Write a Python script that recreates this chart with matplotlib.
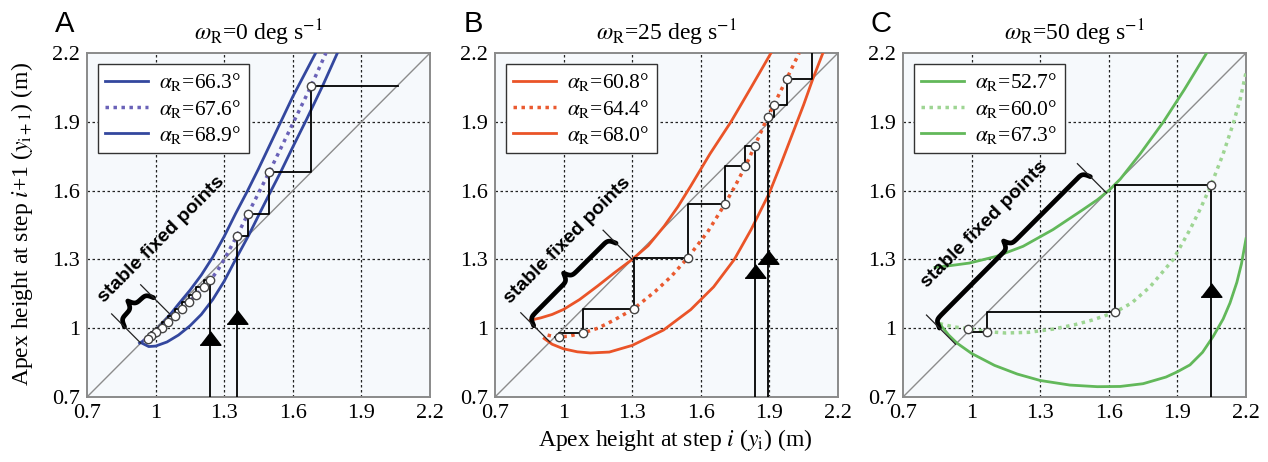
import numpy as np
import matplotlib
matplotlib.use('Agg')
from matplotlib import pyplot as plt

# ---- data ---------------------------------------------------------------
omega = ['0', '25', '50']
letters = ['A', 'B', 'C']
alpha_labels = [['66.3', '67.6', '68.9'],
                ['60.8', '64.4', '68.0'],
                ['52.7', '60.0', '67.3']]

# panel A (omega_R = 0)
A_x1 = [0.93, 0.95, 0.98, 1.02, 1.06, 1.10, 1.15, 1.20, 1.25, 1.30, 1.35, 1.40, 1.45, 1.50, 1.55, 1.60, 1.65, 1.70]
A_y1 = [0.935, 0.947, 0.97, 1.01, 1.055, 1.105, 1.165, 1.232, 1.31, 1.40, 1.50, 1.595, 1.695, 1.80, 1.905, 2.01, 2.105, 2.2]
A_x2 = [0.945, 0.966, 0.982, 1.003, 1.028, 1.055, 1.085, 1.115, 1.146, 1.178, 1.21, 1.24, 1.27, 1.30, 1.356, 1.403, 1.497, 1.681, 1.745]
A_y2 = [0.945, 0.955, 0.966, 0.982, 1.003, 1.028, 1.055, 1.085, 1.115, 1.146, 1.178, 1.21, 1.25, 1.30, 1.403, 1.497, 1.681, 2.058, 2.2]
A_x3 = [0.94, 0.97, 1.0, 1.05, 1.10, 1.15, 1.20, 1.25, 1.30, 1.35, 1.406, 1.453, 1.50, 1.547, 1.60, 1.66, 1.731, 1.795]
A_y3 = [0.935, 0.92, 0.922, 0.94, 0.97, 1.01, 1.06, 1.125, 1.205, 1.30, 1.403, 1.497, 1.59, 1.681, 1.79, 1.91, 2.058, 2.2]

# panel B (omega_R = 25)
B_x1 = [0.855, 0.90, 0.95, 1.00, 1.07, 1.15, 1.22, 1.30, 1.37, 1.44, 1.50, 1.556, 1.64, 1.732, 1.82, 1.907]
B_y1 = [1.035, 1.045, 1.06, 1.082, 1.125, 1.185, 1.24, 1.30, 1.36, 1.445, 1.53, 1.62, 1.76, 1.90, 2.05, 2.2]
B_x2 = [0.93, 0.962, 0.979, 1.02, 1.084, 1.15, 1.22, 1.306, 1.40, 1.47, 1.542, 1.63, 1.706, 1.75, 1.795, 1.836, 1.892, 1.92, 1.975, 2.03]
B_y2 = [0.97, 0.962, 0.962, 0.965, 0.979, 1.0, 1.035, 1.084, 1.16, 1.225, 1.306, 1.42, 1.542, 1.62, 1.706, 1.795, 1.92, 1.975, 2.086, 2.2]
B_x3 = [0.915, 0.95, 1.0, 1.06, 1.117, 1.2, 1.30, 1.437, 1.556, 1.656, 1.746, 1.82, 1.90, 1.95, 2.0, 2.05, 2.09, 2.134]
B_y3 = [0.955, 0.93, 0.91, 0.897, 0.892, 0.896, 0.925, 0.992, 1.081, 1.18, 1.299, 1.43, 1.59, 1.715, 1.845, 1.975, 2.087, 2.2]

# panel C (omega_R = 50)
C_x1 = [0.84, 0.90, 0.99, 1.108, 1.225, 1.356, 1.487, 1.55, 1.604, 1.65, 1.737, 1.839, 1.93, 2.028]
C_y1 = [1.265, 1.272, 1.284, 1.313, 1.357, 1.43, 1.517, 1.56, 1.604, 1.65, 1.76, 1.90, 2.04, 2.2]
C_x2 = [0.86, 0.92, 0.985, 1.069, 1.15, 1.25, 1.356, 1.45, 1.526, 1.626, 1.70, 1.78, 1.882, 1.955, 2.0, 2.048, 2.10, 2.145, 2.175, 2.2]
C_y2 = [1.02, 1.006, 0.998, 0.985, 0.979, 0.982, 0.996, 1.015, 1.035, 1.069, 1.11, 1.18, 1.30, 1.43, 1.52, 1.626, 1.76, 1.895, 2.0, 2.115]
C_x3 = [0.855, 0.90, 0.936, 1.0, 1.10, 1.20, 1.30, 1.43, 1.55, 1.65, 1.75, 1.85, 1.90, 1.955, 2.01, 2.057, 2.10, 2.13, 2.16, 2.18, 2.2]
C_y3 = [1.025, 0.97, 0.935, 0.89, 0.838, 0.80, 0.772, 0.752, 0.745, 0.746, 0.758, 0.787, 0.81, 0.84, 0.895, 0.965, 1.04, 1.11, 1.20, 1.28, 1.39]

# cobweb iterates (apex heights y_0, y_1, ...) and arrow head heights
A_webs = [[1.356, 1.403, 1.497, 1.681, 2.058],
          [1.24, 1.21, 1.178, 1.146, 1.115, 1.085, 1.055, 1.028, 1.003, 0.982, 0.966, 0.955]]
A_heads = [1.049, 0.957]
B_webs = [[1.892, 1.92, 1.975, 2.086, 2.4],
          [1.836, 1.795, 1.706, 1.542, 1.306, 1.084, 0.979, 0.962]]
B_heads = [1.31, 1.25]
C_webs = [[2.048, 1.626, 1.069, 0.985, 0.998]]
C_heads = [1.165]

# range of stable fixed points along the diagonal
brace_range = [(0.935, 1.062), (0.94, 1.30), (0.93, 1.59)]
text_pos = [(1.207, 0.255), (1.20, 0.26), (1.254, 0.277)]

ticks = [0.7, 1, 1.3, 1.6, 1.9, 2.2]
tick_labels = ['0.7', '1', '1.3', '1.6', '1.9', '2.2']

# ---- styling ------------------------------------------------------------
plt.rcParams['font.family'] = ['Liberation Serif', 'DejaVu Serif']
plt.rcParams['mathtext.fontset'] = 'stix'

colors = [('#33479e', '#6a62b8'), ('#ea5428', '#ea5a30'), ('#62b85a', '#9ed593')]

panels = [
    ([(A_x1, A_y1), (A_x2, A_y2), (A_x3, A_y3)], A_webs, A_heads),
    ([(B_x1, B_y1), (B_x2, B_y2), (B_x3, B_y3)], B_webs, B_heads),
    ([(C_x1, C_y1), (C_x2, C_y2), (C_x3, C_y3)], C_webs, C_heads),
]

fig = plt.figure(figsize=(12.68, 4.62), dpi=100)
lefts = [87, 495, 903]
arrow_marker = [(-1, -0.65), (1, -0.65), (0, 0.65)]
s2 = np.sqrt(2)


def diag_to_xy(t, v):
    # t: position along the diagonal, v: perpendicular offset (towards upper left)
    return t - v / s2, t + v / s2


def draw_brace(ax, t0, t1, base=0.10, h=0.07, beta=140):
    L = (t1 - t0) * s2
    u = np.linspace(0, L / 2, 200)
    half = 0.5 / (1 + np.exp(-beta * (u - u[0]))) + 0.5 / (1 + np.exp(-beta * (u - u[-1])))
    v = np.concatenate([half, half[::-1]])
    v = base + (v - 0.25) * 2 * h
    uu = np.concatenate([u, L - u[::-1]])
    t = t0 + uu / s2
    x, y = diag_to_xy(t, v)
    ax.plot(x, y, color='black', lw=3.4, solid_capstyle='round',
            solid_joinstyle='round', zorder=6)
    for tt in (t0, t1):
        x, y = diag_to_xy(np.array([tt, tt]), np.array([0.0, 0.18]))
        ax.plot(x, y, color='#222222', lw=0.9, zorder=6)


for i, (curves, webs, heads) in enumerate(panels):
    ax = fig.add_axes([lefts[i] / 1268, 65 / 462, 343 / 1268, 344 / 462])
    ax.set_facecolor('#f6f9fc')
    ax.set_xlim(0.7, 2.2)
    ax.set_ylim(0.7, 2.2)
    ax.set_xticks(ticks)
    ax.set_yticks(ticks)
    ax.set_xticklabels(tick_labels)
    ax.set_yticklabels(tick_labels)
    ax.tick_params(length=0, labelsize=16, pad=5)
    for sp in ax.spines.values():
        sp.set_color('#8a8a8a')
        sp.set_linewidth(1.4)
    for g in ticks[1:-1]:
        ax.axvline(g, color='#222222', lw=0.9, ls=(0, (2, 2)), zorder=1)
        ax.axhline(g, color='#222222', lw=0.9, ls=(0, (2, 2)), zorder=1)

    # identity line
    ax.plot([0.7, 2.2], [0.7, 2.2], color='#8c8c8c', lw=1.0, zorder=2)

    solid, dotted = colors[i]
    labs = alpha_labels[i]
    for k, (cx, cy) in enumerate(curves):
        lab = r'$\alpha_{\rm R}$=' + labs[k] + '°'
        if k == 1:
            ax.plot(cx, cy, color=dotted, lw=2.5, ls=(0, (1, 1.3)), label=lab, zorder=3)
        else:
            ax.plot(cx, cy, color=solid, lw=2.0, label=lab, zorder=3)

    # cobweb iterations
    for seq, hy in zip(webs, heads):
        px = [seq[0], seq[0]]
        py = [0.7, seq[1]]
        for k in range(1, len(seq) - 1):
            px += [seq[k], seq[k]]
            py += [seq[k], seq[k + 1]]
        px.append(seq[-1])
        py.append(seq[-1])
        ax.plot(px, py, color='black', lw=1.3, zorder=4)
        ax.plot(seq[:-1], seq[1:], 'o', ms=6, mfc='white', mec='#444444', mew=1.0, zorder=5)
        ax.plot([seq[0]], [hy], marker=arrow_marker, ms=15, color='black', zorder=6)

    t0, t1 = brace_range[i]
    draw_brace(ax, t0, t1)
    tt, tv = text_pos[i]
    tx, ty = diag_to_xy(tt, tv)
    ax.text(tx, ty, 'stable fixed points', rotation=45, rotation_mode='anchor',
            ha='center', va='center', fontsize=14, fontweight='bold',
            family=['Liberation Sans', 'DejaVu Sans'], zorder=7)

    leg = ax.legend(loc='upper left', bbox_to_anchor=(0.0, 1.0), fontsize=15.5,
                    handlelength=2.0, handletextpad=0.5, labelspacing=0.2,
                    borderpad=0.35, borderaxespad=0.5, fancybox=False,
                    framealpha=1, edgecolor='#333333')
    leg.get_frame().set_linewidth(1.0)
    leg.set_zorder(8)

    ax.set_title(r'$\omega_{\rm R}$=' + omega[i] + r' deg s$^{-1}$', fontsize=17, pad=9)
    fig.text((lefts[i] - 22) / 1268, 1 - 24 / 462, letters[i], fontsize=21,
             family=['Liberation Sans', 'DejaVu Sans'], ha='center', va='center')

fig.text(675 / 1268, 1 - 440 / 462, r'Apex height at step $i$ ($y_{\rm i}$) (m)',
         fontsize=17, ha='center', va='center')
fig.text(22 / 1268, 1 - 224 / 462, r'Apex height at step $i$+1 ($y_{\rm i+1}$) (m)',
         fontsize=17, ha='center', va='center', rotation=90)

fig.savefig('out.png', dpi=100)
